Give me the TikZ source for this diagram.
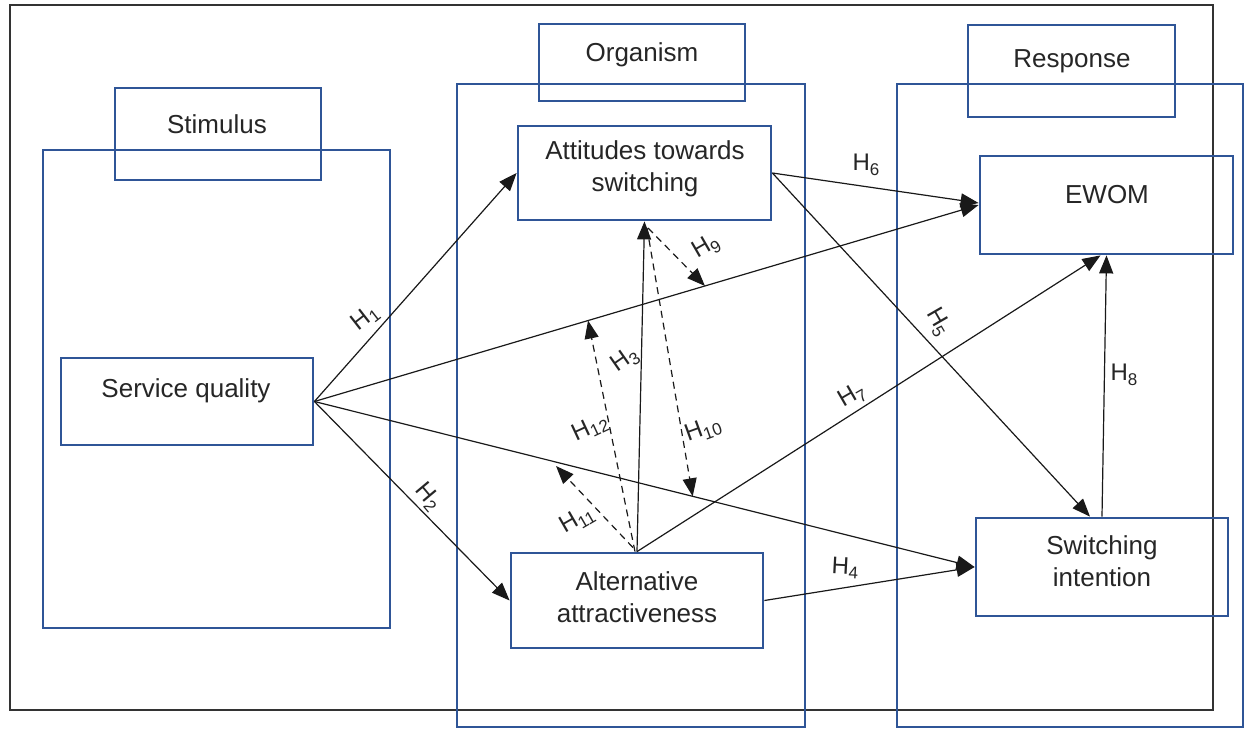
\documentclass[tikz,border=0pt]{standalone}
\usepackage{fontspec}
\setmainfont{Liberation Sans}
\usetikzlibrary{arrows.meta,fit,calc}
\definecolor{boxblue}{HTML}{2F5597}
\definecolor{framegray}{HTML}{333333}
\newcommand{\hyplab}[1]{H\raisebox{-0.35ex}{\fontsize{8.5}{10}\selectfont #1}}
\begin{document}
\begin{tikzpicture}[x=0.5pt,y=-0.5pt,
  bbox/.style={draw=boxblue,line width=1.4pt,inner sep=0pt,rectangle},
  frm/.style={draw=framegray,line width=0.9pt,inner sep=0pt,rectangle},
  txt/.style={font=\fontsize{13}{16}\selectfont,align=center,inner sep=0pt,text=black!85},
  hl/.style={font=\fontsize{12}{14}\selectfont,inner sep=0pt,text=black!85},
  arr/.style={draw=black!90,line width=0.6pt,-{Triangle[length=9pt,width=7pt]}},
  darr/.style={arr,dash pattern=on 3.5pt off 2.5pt}]
\useasboundingbox[fill=white] (0,0) rectangle (1244,729);
% frame and boxes
\node[frm,fit={(10,5) (1213,710)}] (frame) {};
\node[bbox,fit={(43,150) (390,628)}] (stimbig) {};
\node[bbox,fit={(115,88) (321,180)}] (stimlab) {};
\node[bbox,fit={(457,84) (805,727)}] (orgbig) {};
\node[bbox,fit={(539,24) (745,101)}] (orglab) {};
\node[bbox,fit={(897,84) (1243,727)}] (resbig) {};
\node[bbox,fit={(968,25) (1175,117)}] (reslab) {};
\node[bbox,fit={(518,126) (771,220)}] (att) {};
\node[bbox,fit={(511,553) (763,648)}] (alt) {};
\node[bbox,fit={(61,358) (313,445)}] (sq) {};
\node[bbox,fit={(980,156) (1233,254)}] (ewom) {};
\node[bbox,fit={(976,518) (1228,616)}] (si) {};
% texts
\node[txt] (tstim) at (217,124) {Stimulus};
\node[txt] (torg) at (642,55) {Organism};
\node[txt] (tres) at (1072,61) {Response};
\node[txt] (tatt) at (645,169) {Attitudes towards\\switching};
\node[txt] (tsq) at (186,391) {Service quality};
\node[txt] (talt) at (637,597) {Alternative\\attractiveness};
\node[txt] (tewom) at (1107,195) {EWOM};
\node[txt] (tsi) at (1102,561) {Switching\\intention};
% solid arrows
\draw[arr] (sq.east) -- (att.west);
\draw[arr] (sq.east) -- (alt.west);
\draw[arr] (sq.east) -- coordinate[pos=0.588] (p9) coordinate[pos=0.412] (p12) (ewom.west);
\draw[arr] (sq.east) -- coordinate[pos=0.573] (p10) (si.west);
\draw[arr] (alt.north) -- (att.south);
\draw[arr] (alt.east) -- (si.west);
\draw[arr] (att.east) -- ($(si.north)+(-12,0)$);
\draw[arr] (att.east) -- ($(ewom.west)+(0,-2)$);
\draw[arr] (alt.north) -- ($(ewom.south)+(-6,0)$);
\draw[arr] (si.north) -- (ewom.south);
% dashed arrows
\coordinate (a9) at (648,228);
\coordinate (a10) at (647,228);
\coordinate (p11) at (556,466);
\draw[darr] (a9) -- (p9);
\draw[darr] (a10) -- (p10);
\draw[darr] ($(alt.north)+(-2,0)$) -- (p12);
\draw[darr] ($(alt.north)+(-4,-4)$) -- (p11);
% labels
\node[hl,rotate=38] (l1) at (365,318) {\hyplab{1}};
\node[hl,rotate=-50] (l2) at (428,497) {\hyplab{2}};
\node[hl,rotate=35] (l3) at (625,360) {\hyplab{3}};
\node[hl,rotate=-3] (l4) at (845,568) {\hyplab{4}};
\node[hl,rotate=-60] (l5) at (938,322) {\hyplab{5}};
\node[hl] (l6) at (866,165) {\hyplab{6}};
\node[hl,rotate=30] (l7) at (852,396) {\hyplab{7}};
\node[hl] (l8) at (1124,375) {\hyplab{8}};
\node[hl,rotate=30] (l9) at (706,247) {\hyplab{9}};
\node[hl,rotate=20] (l10) at (703,430) {\hyplab{10}};
\node[hl,rotate=30] (l11) at (577,520) {\hyplab{11}};
\node[hl,rotate=25] (l12) at (590,428) {\hyplab{12}};
\end{tikzpicture}
\end{document}
